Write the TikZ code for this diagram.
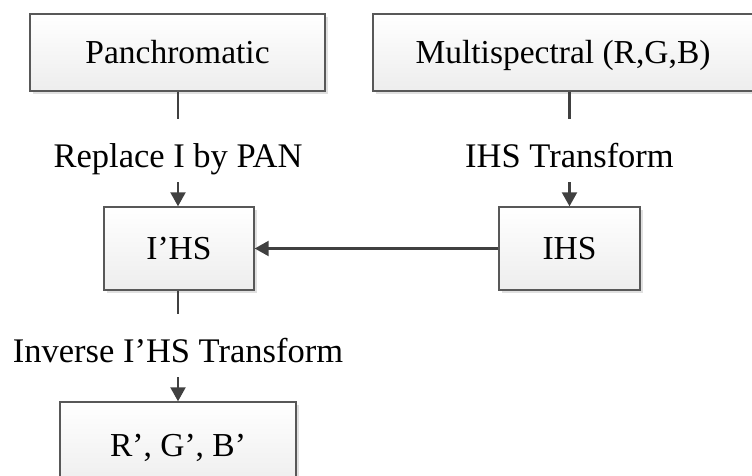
\documentclass[tikz,border=0pt]{standalone}
\usepackage{fontspec}
\setmainfont{Liberation Serif}
\usetikzlibrary{arrows.meta,shadows}
\definecolor{linegray}{HTML}{404040}
\definecolor{framegray}{HTML}{585858}
\tikzset{
  stagebox/.style={draw=framegray, line width=1.4pt, top color=white, bottom color=black!7,
    drop shadow={shadow xshift=3pt, shadow yshift=-3pt, fill=black!20, opacity=0.6},
    inner sep=0pt, text height=22pt, text depth=0pt, font=\fontsize{33.5}{36}\selectfont},
  steplabel/.style={inner sep=0pt, anchor=base, text height=48pt, text depth=15pt,
    font=\fontsize{34.5}{38}\selectfont},
  link/.style={draw=linegray, line width=2.2pt},
  linkarrow/.style={link, -{Triangle[length=14pt,width=15pt]}}
}
\begin{document}
\begin{tikzpicture}[x=1pt,y=-1pt]
\useasboundingbox (0,0) rectangle (752,476);
\clip (0,0) rectangle (752,476);
\node[stagebox, minimum width=295pt, minimum height=77pt] (pan) at (177.5,52.5) {Panchromatic};
\node[stagebox, minimum width=380pt, minimum height=77pt] (ms) at (563,52.5) {Multispectral (R,G,B)};
\node[stagebox, minimum width=150pt, minimum height=83pt] (ihsp) at (179,248.5) {I’HS};
\node[stagebox, minimum width=141pt, minimum height=83pt] (ihs) at (569.5,248.5) {IHS};
\node[stagebox, minimum width=236pt, minimum height=86pt] (rgb) at (178,445) {R’, G’, B’};

\node[steplabel] (repl) at (178,167) {Replace I by PAN};
\node[steplabel] (tr) at (569.5,167) {IHS Transform};
\node[steplabel] (inv) at (178,362) {Inverse I’HS Transform};

\draw[link] (pan.south -| repl.north) -- (repl.north);
\draw[linkarrow] (repl.south) -- (repl.south |- ihsp.north);
\draw[link] (ms.south -| tr.north) -- (tr.north);
\draw[linkarrow] (tr.south) -- (ihs.north);
\draw[linkarrow] (ihs.west) -- (ihsp.east);
\draw[link] (ihsp.south -| inv.north) -- (inv.north);
\draw[linkarrow] (inv.south) -- (rgb.north);
\end{tikzpicture}
\end{document}
